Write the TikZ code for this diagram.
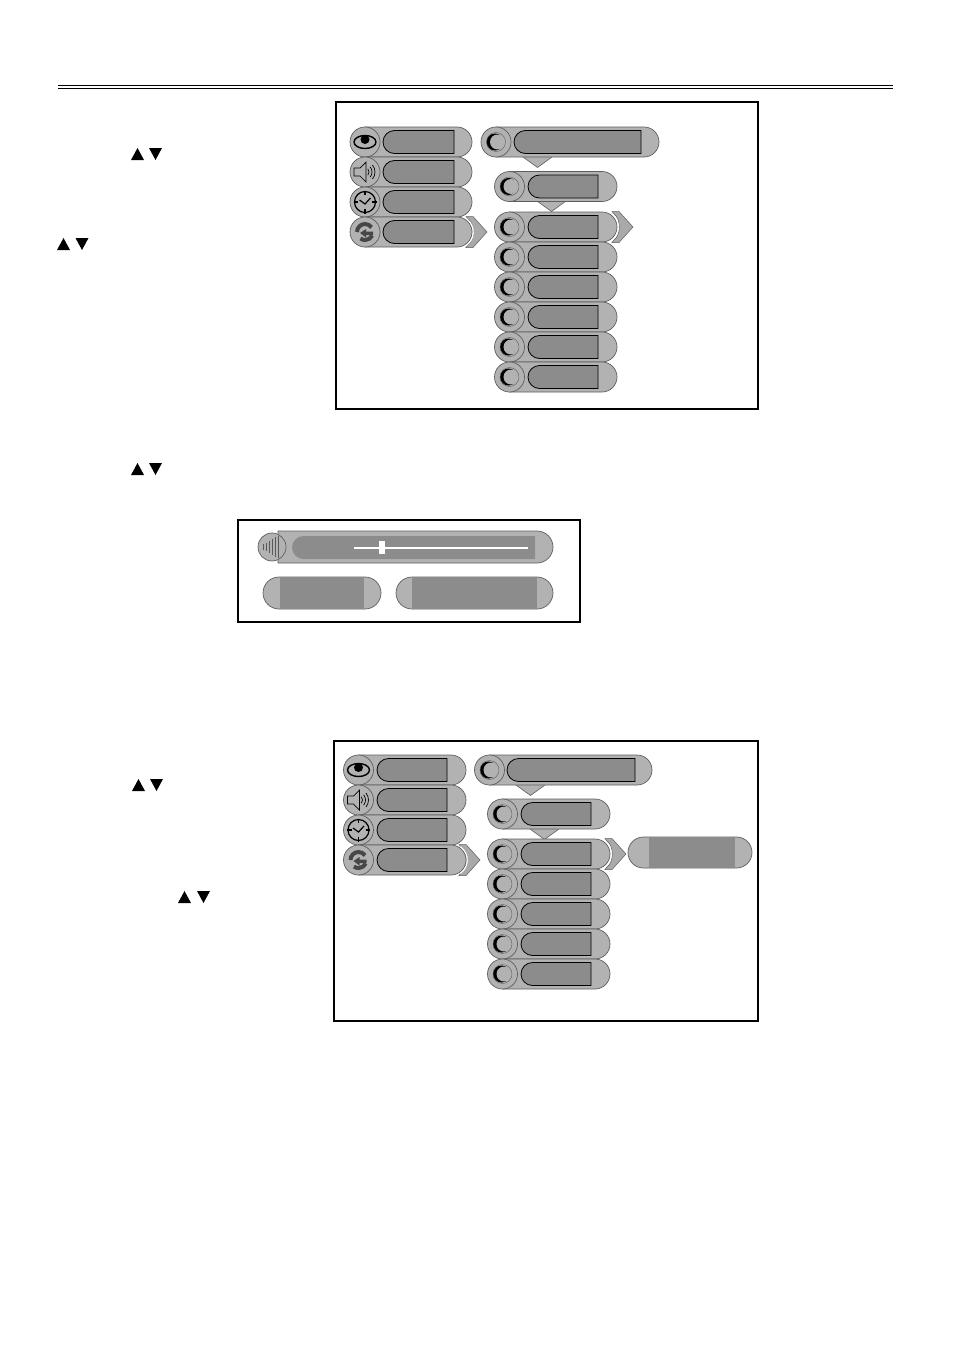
\documentclass[tikz,border=0pt]{standalone}
\usetikzlibrary{calc}
\definecolor{pillc}{HTML}{B2B2B2}
\definecolor{innerc}{HTML}{8C8C8C}
\definecolor{linec}{HTML}{5E5E5E}
\tikzset{
  pill/.style={fill=pillc,draw=linec,line width=0.7pt},
  inner/.style={fill=innerc,draw=black,line width=0.8pt},
  frame/.style={draw=black,line width=1.7pt,fill=white},
  tri/.style={fill=black,draw=none},
  icon/.style={draw=black,line width=1pt},
}
% #1 circle x, #2 centre y, #3 pill right, #4 inner left, #5 inner right
\newcommand{\menurow}[5]{%
  \draw[pill] (#1,#2-15) -- (#3-15,#2-15) arc[start angle=-90,end angle=90,radius=15] -- (#1,#2+15) -- cycle;
  \draw[inner] (#5,#2-11.5) -- (#4+11.5,#2-11.5) arc[start angle=270,end angle=90,radius=11.5] -- (#5,#2+11.5) -- cycle;
  \draw[pill] (#1,#2) circle[radius=15];
}
\newcommand{\moon}[2]{%
  \fill[black] (#1-1,#2) circle[radius=8.5];
  \fill[pillc] (#1+1.5,#2) circle[radius=7.5];
  \draw[linec,line width=0.4pt] (#1,#2) circle[radius=9.5];
}
\newcommand{\moonrow}[5]{\menurow{#1}{#2}{#3}{#4}{#5}\moon{#1}{#2}}
\newcommand{\eyeicon}[2]{%
  \draw[icon,line width=1.4pt] (#1,#2) ellipse[x radius=11,y radius=6.5];
  \fill[black] (#1,#2-2.5) circle[radius=4.5];
}
\newcommand{\speakericon}[2]{%
  \draw[icon,line width=0.7pt] (#1-11,#2-4) -- (#1-5,#2-4) -- (#1+1,#2-10) -- (#1+1,#2+10) -- (#1-5,#2+4) -- (#1-11,#2+4) -- cycle;
  \foreach \r in {5,8,11}{\draw[black,line width=0.7pt] (#1-1,#2)++(-40:\r) arc[start angle=-40,end angle=40,radius=\r];}
}
\newcommand{\clockicon}[2]{%
  \draw[icon,line width=1.2pt] (#1,#2) circle[radius=10.5];
  \draw[icon,line width=1.2pt] (#1,#2-11.5)--(#1,#2-7) (#1,#2+7)--(#1,#2+11.5) (#1-11.5,#2)--(#1-7,#2) (#1+7,#2)--(#1+11.5,#2);
  \draw[icon,line width=1.2pt] (#1-5.5,#2-2)--(#1,#2+2)--(#1+5.5,#2-4);
}
\newcommand{\returnicon}[2]{%
  \draw[draw=black!72,line width=4pt] (#1,#2)++(180:8) arc[start angle=180,end angle=325,radius=8];
  \draw[draw=black!72,line width=4pt] (#1,#2)++(25:8) arc[start angle=25,end angle=125,radius=8];
  \fill[black!72] (#1-5,#2+1) -- (#1+1,#2-3) -- (#1+1,#2-0.5) -- (#1+8,#2-0.5) -- (#1+8,#2+3) -- (#1+1,#2+3) -- (#1+1,#2+5.5) -- cycle;
}
% #1 left x, #2 centre y
\newcommand{\chevron}[2]{%
  \draw[fill=pillc!95!black,draw=linec,line width=0.5pt] (#1,#2-15.5) -- (#1+7,#2-15.5) -- (#1+21,#2) -- (#1+7,#2+15.5) -- (#1,#2+15.5) -- (#1+2,#2+13) .. controls (#1+9,#2+8) and (#1+9,#2-8) .. (#1+2,#2-13) -- cycle;
}
% white halo round the right end of a row: #1 pill right, #2 centre y
\newcommand{\halo}[2]{%
  \draw[white,line width=1.3pt] (#1-15,#2)++(-55:16.2) arc[start angle=-55,end angle=55,radius=16.2];
}
\newcommand{\pointer}[3]{%
  \draw[fill=pillc,draw=linec,line width=0.6pt] (#1,#3) -- (#1+14.5,#3+10.5) -- (#1+29,#3);
}
\newcommand{\uptri}[2]{\fill[tri] (#1,#2+12) -- (#1+13,#2+12) -- (#1+6.5,#2) -- cycle;}
\newcommand{\dntri}[2]{\fill[tri] (#1,#2) -- (#1+13,#2) -- (#1+6.5,#2+12) -- cycle;}
\begin{document}
\begin{tikzpicture}[x=1pt,y=-1pt]
\useasboundingbox (0,0) rectangle (954,1349);
\fill[white] (0,0) rectangle (954,1349);
% header rule
\coordinate (hl) at (58,85.3); \coordinate (hr) at (893,85.3);
\coordinate (il) at (58,88.8); \coordinate (ir) at (893,88.8);
\draw[black,line width=1.2pt] (hl) -- (hr);
\draw[black,line width=1pt] (il) -- (ir);
% arrows
\uptri{131}{148}\dntri{149}{148}
\uptri{57}{238}\dntri{75.5}{238}
\uptri{131}{463}\dntri{149}{463}
\uptri{132}{779}\dntri{150}{779}
\uptri{178}{891}\dntri{197}{891}
%% ---------- panel 1
\draw[frame] (336,102) rectangle (758,409);
\menurow{365}{142}{472}{383}{454}\eyeicon{365}{142}
\menurow{365}{172}{472}{383}{454}\speakericon{365}{172}
\menurow{365}{202}{472}{383}{454}\clockicon{365}{202}
\chevron{466}{232}
\halo{472}{232}
\menurow{365}{232}{472}{383}{454}\returnicon{365}{232}
\pointer{523}{538}{157}
\moonrow{496}{142}{659}{514}{641}
\pointer{537}{551}{201}
\moonrow{509.5}{186.5}{617}{528}{598}
\chevron{612}{227}
\halo{617}{227}
\moonrow{509.5}{227}{617}{528}{598}
\moonrow{509.5}{257}{617}{528}{598}
\moonrow{509.5}{287}{617}{528}{598}
\moonrow{509.5}{317}{617}{528}{598}
\moonrow{509.5}{347}{617}{528}{598}
\moonrow{509.5}{377}{617}{528}{598}
%% ---------- panel 2
\draw[frame] (238,520) rectangle (580,622);
\draw[pill] (278,531) -- (537,531) arc[start angle=-90,end angle=90,radius=16] -- (278,563) -- cycle;
\fill[innerc] (535,536) -- (303.5,536) arc[start angle=270,end angle=90,radius=11.5] -- (535,559) -- cycle;
\draw[pill] (272,547) circle[radius=14];
\foreach \x/\h in {263/3,266/4,269/6,272/8,275/10,278/11}{\draw[black!65,line width=0.8pt] (\x,547-\h) -- (\x,547+\h);}
\coordinate (sl) at (354,548); \coordinate (sr) at (528,548);
\draw[white,line width=1.2pt] (sl) -- (sr);
\fill[white] (379,541) rectangle (384.5,554);
\draw[pill] (279,577) -- (365,577) arc[start angle=-90,end angle=90,radius=16] -- (279,609) arc[start angle=90,end angle=270,radius=16] -- cycle;
\fill[innerc] (280,577.4) rectangle (364,608.6);
\draw[pill] (412,577) -- (537,577) arc[start angle=-90,end angle=90,radius=16] -- (412,609) arc[start angle=90,end angle=270,radius=16] -- cycle;
\fill[innerc] (412,577.4) rectangle (537,608.6);
%% ---------- panel 3
\draw[frame] (334,741) rectangle (758,1021);
\menurow{358.5}{770}{466}{377}{447}\eyeicon{358.5}{770}
\menurow{358.5}{800}{466}{377}{447}\speakericon{358.5}{800}
\menurow{358.5}{830}{466}{377}{447}\clockicon{358.5}{830}
\chevron{459}{860}
\halo{466}{860}
\menurow{358.5}{860}{466}{377}{447}\returnicon{358.5}{860}
\pointer{516}{531}{785}
\moonrow{489.5}{770}{652}{507}{635}
\pointer{530}{544}{829}
\moonrow{502.5}{814}{610}{521}{591}
\chevron{605}{854}
\halo{610}{854}
\moonrow{502.5}{854}{610}{521}{591}
\moonrow{502.5}{884}{610}{521}{591}
\moonrow{502.5}{914}{610}{521}{591}
\moonrow{502.5}{944}{610}{521}{591}
\moonrow{502.5}{974}{610}{521}{591}
\draw[pill] (643.5,837) -- (736.5,837) arc[start angle=-90,end angle=90,radius=15.5] -- (643.5,868) arc[start angle=90,end angle=270,radius=15.5] -- cycle;
\fill[innerc] (649,837.4) rectangle (735,867.6);
\end{tikzpicture}
\end{document}
